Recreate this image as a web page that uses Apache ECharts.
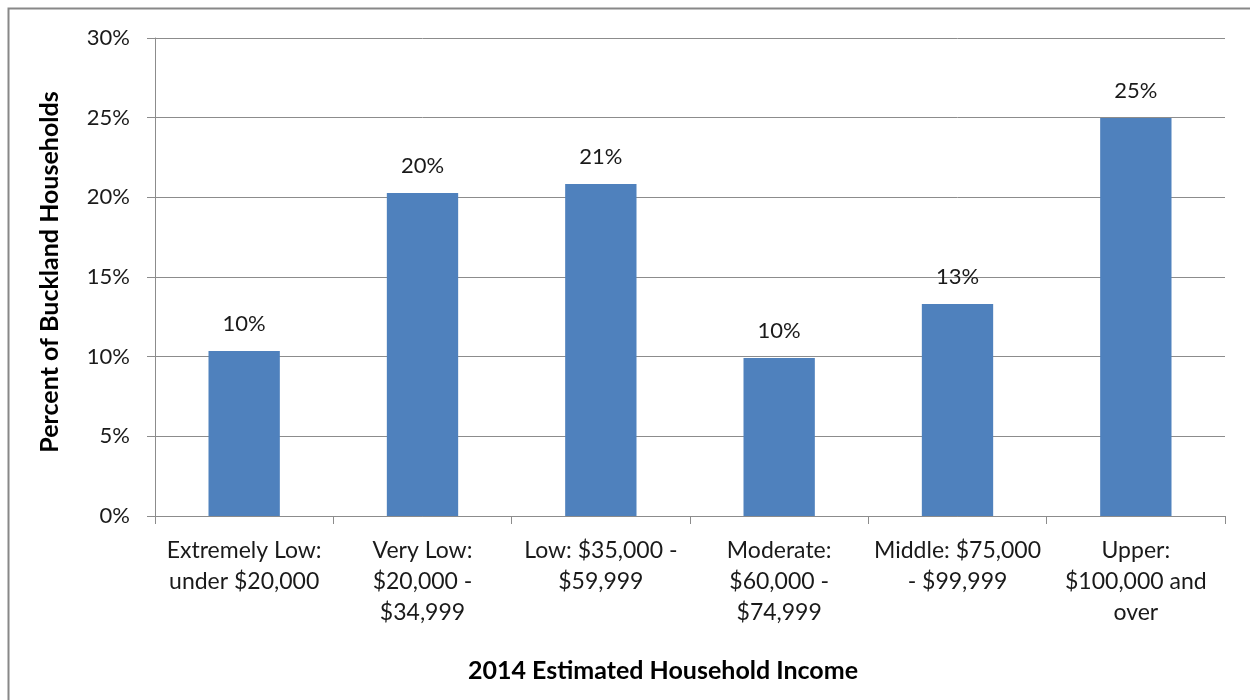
<!DOCTYPE html>
<html><head><meta charset="utf-8">
<script src="https://cdn.jsdelivr.net/npm/echarts@6/dist/echarts.min.js"></script>
<style>html,body{margin:0;padding:0;background:#fff}#c{width:1250px;height:700px}</style>
</head><body><div id="c"></div>
<script>
const categories = ["Extremely Low:\nunder $20,000", "Very Low:\n$20,000 -\n$34,999", "Low: $35,000 -\n$59,999", "Moderate:\n$60,000 -\n$74,999", "Middle: $75,000\n- $99,999", "Upper:\n$100,000 and\nover"];
const values = [10.36, 20.27, 20.84, 9.92, 13.3, 24.98];
const yTitle = "Percent of Buckland Households";
const xTitle = "2014 Estimated Household Income";
const font = "Lato, 'Open Sans', sans-serif";
const chart = echarts.init(document.getElementById('c'));
chart.setOption({
  animation: false,
  grid: {left: 155, right: 25, top: 38, bottom: 184},
  xAxis: {
    type: 'category', data: categories,
    axisLine: {lineStyle: {color: '#8c8c8c', width: 1}},
    axisTick: {show: true, length: 8, lineStyle: {color: '#8c8c8c'}},
    axisLabel: {color: '#1a1a1a', fontSize: 23, fontFamily: font, lineHeight: 31, margin: 19, interval: 0, align: 'center'}
  },
  yAxis: {
    type: 'value', min: 0, max: 30, interval: 5,
    axisLine: {show: true, lineStyle: {color: '#8c8c8c'}},
    axisTick: {show: true, length: 8, lineStyle: {color: '#8c8c8c'}},
    splitLine: {lineStyle: {color: '#8c8c8c', width: 1}},
    axisLabel: {color: '#1a1a1a', fontSize: 22, fontFamily: font, margin: 25, formatter: v => v + '%'}
  },
  series: [{
    type: 'bar', data: values, barWidth: '40%',
    itemStyle: {color: '#4F81BD'},
    label: {show: true, position: 'top', distance: 16, color: '#1a1a1a', fontSize: 22, fontFamily: font,
      formatter: p => Math.round(p.value) + '%'}
  }],
  graphic: [
    {type: 'rect', shape: {x: 8.5, y: 8.5, width: 1260, height: 720}, style: {fill: 'none', stroke: '#888', lineWidth: 2}, silent: true},
    {type: 'text', x: 50, y: 272, rotation: Math.PI/2, style: {text: yTitle, font: "bold 25px " + font, fill: '#000', align: 'center', verticalAlign: 'middle'}},
    {type: 'text', x: 663, y: 671, style: {text: xTitle, font: "bold 25px " + font, fill: '#000', align: 'center', verticalAlign: 'middle'}}
  ]
});
</script></body></html>
